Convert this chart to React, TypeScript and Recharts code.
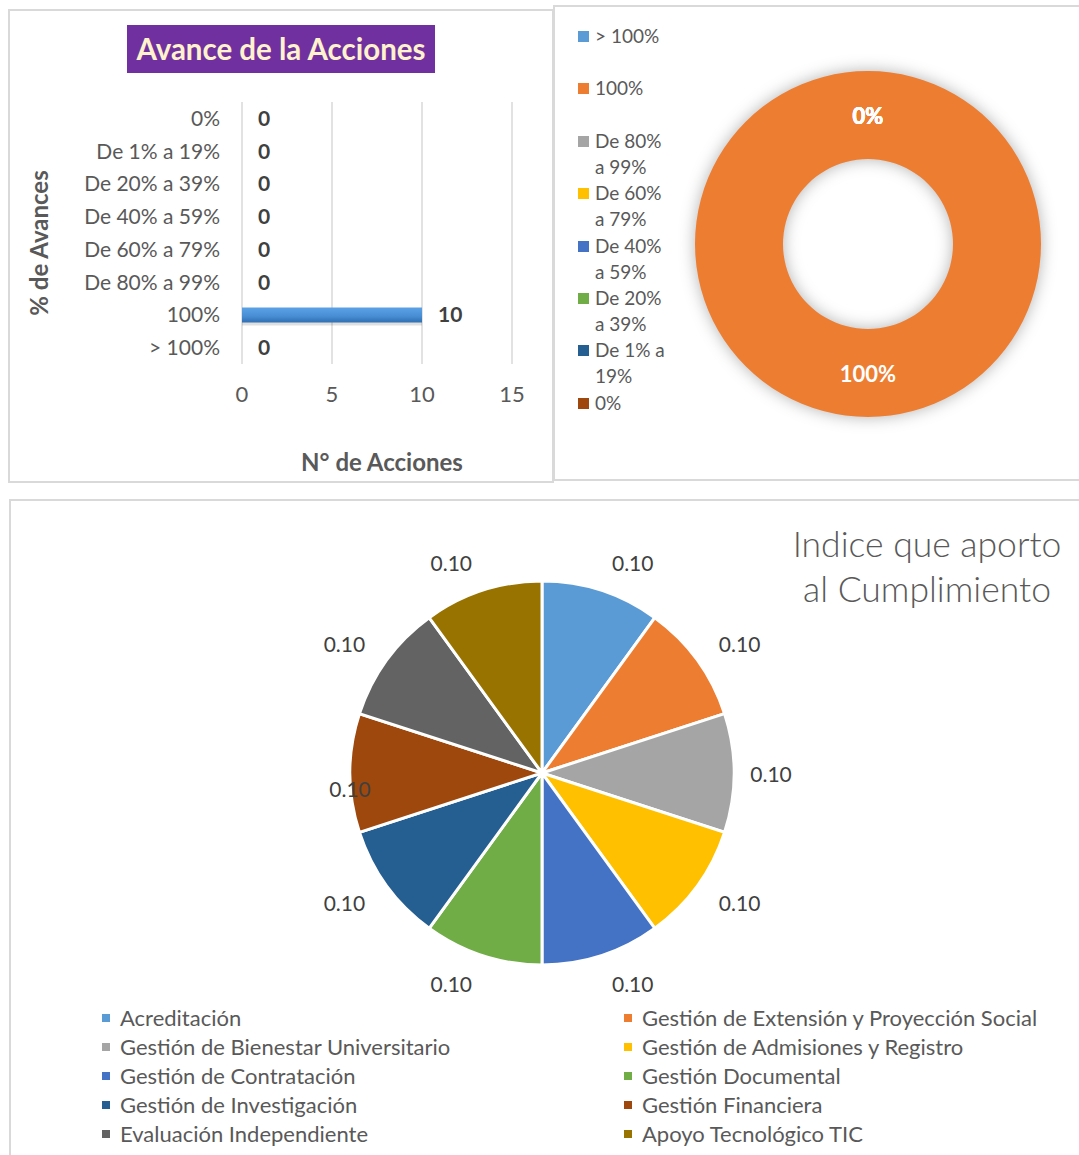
import React from 'react';
import {
  BarChart,
  Bar,
  XAxis,
  YAxis,
  CartesianGrid,
  LabelList,
  PieChart,
  Pie,
  Cell,
} from 'recharts';

// --- datos: avance de las acciones ---
const avanceCategorias = [
  '0%',
  'De 1% a 19%',
  'De 20% a 39%',
  'De 40% a 59%',
  'De 60% a 79%',
  'De 80% a 99%',
  '100%',
  '> 100%',
];
const accionesPorAvance = [0, 0, 0, 0, 0, 0, 10, 0];
const ejeAccionesTicks = [0, 5, 10, 15];

// --- datos: dona de avance ---
const donutCategorias = [
  '> 100%',
  '100%',
  'De 80% a 99%',
  'De 60% a 79%',
  'De 40% a 59%',
  'De 20% a 39%',
  'De 1% a 19%',
  '0%',
];
const donutValores = [0, 10, 0, 0, 0, 0, 0, 0];
const donutColores = ['#5b9bd5', '#ed7d31', '#a5a5a5', '#ffc000', '#4472c4', '#70ad47', '#255e91', '#9e480e'];

// --- datos: indice que aporto al cumplimiento ---
const procesos = [
  'Acreditación',
  'Gestión de Extensión y Proyección Social',
  'Gestión de Bienestar Universitario',
  'Gestión de Admisiones y Registro',
  'Gestión de Contratación',
  'Gestión Documental',
  'Gestión de Investigación',
  'Gestión Financiera',
  'Evaluación Independiente',
  'Apoyo Tecnológico TIC',
];
const indiceAporte = [0.1, 0.1, 0.1, 0.1, 0.1, 0.1, 0.1, 0.1, 0.1, 0.1];
const procesoColores = ['#5b9bd5', '#ed7d31', '#a5a5a5', '#ffc000', '#4472c4', '#70ad47', '#255e91', '#9e480e', '#636363', '#997300'];

const FONT = "Lato, 'Open Sans', sans-serif";
const GRIS = '#595959';
const RADIAN = Math.PI / 180;

const barData = avanceCategorias.map((c, i) => ({ cat: c, n: accionesPorAvance[i] }));
const donutData = donutCategorias.map((c, i) => ({ name: c, value: donutValores[i] }));
const pieData = procesos.map((p, i) => ({ name: p, value: indiceAporte[i] }));

const panel = (left: number, top: number, width: number, height: number): React.CSSProperties => ({
  position: 'absolute',
  left,
  top,
  width,
  height,
  border: '2px solid #d9d9d9',
  boxSizing: 'border-box',
});

// bar with a soft vertical gradient, like the Excel style
const GradientBar = (props: any) => {
  const { x, y, width, height } = props;
  if (!width || width <= 0) return null;
  return (
    <g>
      <defs>
        <linearGradient id="barGrad" x1="0" y1="0" x2="0" y2="1">
          <stop offset="0%" stopColor="#5aa2e6" />
          <stop offset="55%" stopColor="#4a8fd6" />
          <stop offset="100%" stopColor="#306fb2" />
        </linearGradient>
      </defs>
      <rect x={x} y={y + 3} width={width} height={height} fill="rgba(0,0,0,0.12)" />
      <rect x={x} y={y} width={width} height={height} fill="url(#barGrad)" />
    </g>
  );
};

const donutLabel = (props: any) => {
  const { cx, cy, midAngle, innerRadius, outerRadius, percent } = props;
  const r = (innerRadius + outerRadius) / 2;
  const x = cx + r * Math.cos(-midAngle * RADIAN);
  const y = cy + r * Math.sin(-midAngle * RADIAN);
  return (
    <text x={x} y={y} fill="#fff" fontSize={22} fontWeight={700} fontFamily={FONT} textAnchor="middle" dominantBaseline="central">
      {`${Math.round(percent * 100)}%`}
    </text>
  );
};

const pieLabel = (props: any) => {
  const { cx, cy, midAngle, outerRadius, value, name } = props;
  const cos = Math.cos(-midAngle * RADIAN);
  const sin = Math.sin(-midAngle * RADIAN);
  // Excel dejo la etiqueta de Financiera sobre el borde
  const pegada = name === 'Gestión Financiera';
  let x: number;
  let y: number;
  if (pegada) {
    x = cx + outerRadius * cos;
    y = cy + outerRadius * sin + 15;
  } else {
    // caja de texto fuera del borde, corrida hacia afuera en x
    x = cx + (outerRadius + 37) * cos + 21 * Math.sign(Math.round(cos * 1000)) * Math.abs(sin);
    y = cy + (outerRadius + 29) * sin;
  }
  return (
    <text x={x} y={y} fill="#404040" fontSize={21} fontFamily={FONT} textAnchor="middle" dominantBaseline="central">
      {Number(value).toFixed(2)}
    </text>
  );
};

const App: React.FC = () => {
  return (
    <div
      style={{
        position: 'absolute',
        left: 0,
        top: 0,
        width: 1079,
        height: 1155,
        background: '#fff',
        overflow: 'hidden',
        fontFamily: FONT,
      }}
    >
      <style>{`.dona path.recharts-sector, .dona .recharts-pie-sector path { filter: drop-shadow(0px 0px 8px rgba(0,0,0,0.3)); }`}</style>
      {/* paneles */}
      <div style={panel(8, 9, 546, 474)} />
      <div style={panel(553, 5, 540, 476)} />
      <div style={panel(9, 499, 1085, 670)} />

      {/* --- grafico de barras --- */}
      <div
        style={{
          position: 'absolute',
          left: 127,
          top: 25,
          width: 308,
          height: 48,
          background: '#7030a0',
          color: '#fff2cc',
          fontWeight: 700,
          fontSize: 29.5,
          lineHeight: '48px',
          textAlign: 'center',
          whiteSpace: 'nowrap',
        }}
      >
        Avance de la Acciones
      </div>
      <div
        style={{
          position: 'absolute',
          left: 38,
          top: 243,
          transform: 'translate(-50%, -50%) rotate(-90deg)',
          fontWeight: 700,
          fontSize: 24,
          color: GRIS,
          whiteSpace: 'nowrap',
        }}
      >
        % de Avances
      </div>
      <div
        style={{
          position: 'absolute',
          left: 382,
          top: 461,
          transform: 'translate(-50%, -50%)',
          fontWeight: 700,
          fontSize: 24,
          color: GRIS,
          whiteSpace: 'nowrap',
        }}
      >
        N° de Acciones
      </div>
      <div style={{ position: 'absolute', left: 0, top: 90 }}>
        <BarChart
          width={530}
          height={330}
          data={barData}
          layout="vertical"
          margin={{ top: 12, right: 18, left: 20, bottom: 16 }}
        >
          <CartesianGrid horizontal={false} stroke="#d9d9d9" strokeWidth={1.5} />
          <XAxis
            type="number"
            domain={[0, 15]}
            ticks={ejeAccionesTicks}
            axisLine={false}
            tickLine={false}
            tickSize={0}
            tickMargin={22}
            height={40}
            tick={{ fill: GRIS, fontSize: 22, fontFamily: FONT }}
          />
          <YAxis
            type="category"
            dataKey="cat"
            width={222}
            axisLine={false}
            tickLine={false}
            tickSize={0}
            tickMargin={22}
            interval={0}
            tick={{ fill: GRIS, fontSize: 21, fontFamily: FONT }}
          />
          <Bar dataKey="n" barSize={15} shape={GradientBar} isAnimationActive={false}>
            <LabelList
              dataKey="n"
              position="right"
              offset={16}
              fill="#404040"
              fontSize={21}
              fontWeight={700}
              fontFamily={FONT}
            />
          </Bar>
        </BarChart>
      </div>

      {/* --- dona --- */}
      <div className="dona" style={{ position: 'absolute', left: 555, top: 7 }}>
        <PieChart width={520} height={470} margin={{ top: 0, right: 0, bottom: 0, left: 0 }}>
          <Pie
            data={donutData}
            dataKey="value"
            nameKey="name"
            cx={313}
            cy={237}
            innerRadius={85}
            outerRadius={173}
            startAngle={90}
            endAngle={-270}
            stroke="none"
            label={donutLabel}
            labelLine={false}
            isAnimationActive={false}
          >
            {donutData.map((d, i) => (
              <Cell key={d.name} fill={donutColores[i]} />
            ))}
          </Pie>
        </PieChart>
      </div>
      <div style={{ position: 'absolute', left: 578, top: 23 }}>
        {donutCategorias.map((c, i) => (
          <div key={c} style={{ height: 52.4, display: 'flex', alignItems: 'flex-start' }}>
            <span
              style={{
                width: 11,
                height: 11,
                background: donutColores[i],
                marginTop: 8,
                marginRight: 6,
                flex: 'none',
              }}
            />
            <span style={{ fontSize: 19, lineHeight: '26px', color: GRIS, width: 72 }}>{c}</span>
          </div>
        ))}
      </div>

      {/* --- pastel indice --- */}
      <div
        style={{
          position: 'absolute',
          left: 927,
          top: 521,
          transform: 'translateX(-50%)',
          textAlign: 'center',
          fontSize: 35.5,
          fontWeight: 300,
          lineHeight: '45px',
          color: GRIS,
          whiteSpace: 'nowrap',
        }}
      >
        Indice que aporto
        <br />
        al Cumplimiento
      </div>
      <div style={{ position: 'absolute', left: 10, top: 500 }}>
        <PieChart width={1069} height={560} margin={{ top: 0, right: 0, bottom: 0, left: 0 }}>
          <Pie
            data={pieData}
            dataKey="value"
            nameKey="name"
            cx={532}
            cy={273}
            outerRadius={192}
            startAngle={90}
            endAngle={-270}
            stroke="#fff"
            strokeWidth={3}
            label={pieLabel}
            labelLine={false}
            isAnimationActive={false}
          >
            {pieData.map((d, i) => (
              <Cell key={d.name} fill={procesoColores[i]} />
            ))}
          </Pie>
        </PieChart>
      </div>
      <div
        style={{
          position: 'absolute',
          left: 102,
          top: 1003,
          display: 'grid',
          gridTemplateColumns: '522px 440px',
          gridAutoRows: '29px',
        }}
      >
        {procesos.map((p, i) => (
          <div key={p} style={{ display: 'flex', alignItems: 'center', whiteSpace: 'nowrap' }}>
            <span style={{ width: 8, height: 8, background: procesoColores[i], marginRight: 10, flex: 'none' }} />
            <span style={{ fontSize: 22, color: GRIS }}>{p}</span>
          </div>
        ))}
      </div>
    </div>
  );
};

export default App;
